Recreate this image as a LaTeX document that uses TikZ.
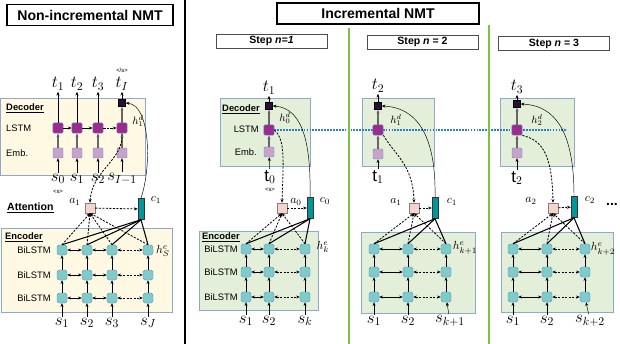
\documentclass[tikz,border=0pt]{standalone}
\usepackage{fontspec}
\setmainfont{Liberation Sans}
\usetikzlibrary{arrows.meta, positioning, calc}
\pgfdeclarelayer{panel}
\pgfdeclarelayer{wire}
\pgfsetlayers{panel,wire,main}

\definecolor{lstmc}{HTML}{9C2A8F}
\definecolor{embc}{HTML}{C9A2CC}
\definecolor{outc}{HTML}{2E0B3A}
\definecolor{encc}{HTML}{7FCBCB}
\definecolor{cellb}{HTML}{5B8FC9}
\definecolor{attc}{HTML}{F8D3CC}
\definecolor{ctxc}{HTML}{00969B}
\definecolor{yelbox}{HTML}{FFF9E3}
\definecolor{grnbox}{HTML}{E3EFD9}
\definecolor{boxb}{HTML}{8EAACB}
\definecolor{stepg}{HTML}{7DC242}
\definecolor{recb}{HTML}{2A80C0}

\begin{document}
\begin{tikzpicture}[x=0.03cm, y=-0.03cm,
    lstm/.style={draw=cellb, fill=lstmc, rounded corners=1pt, minimum size=3.1mm, inner sep=0pt},
    emb/.style={draw=cellb, fill=embc, rounded corners=1pt, minimum size=3mm, inner sep=0pt},
    outcell/.style={draw=black, fill=outc, minimum size=2.1mm, inner sep=0pt},
    enc/.style={draw=cellb, fill=encc, rounded corners=1.5pt, minimum size=3mm, inner sep=0pt},
    att/.style={draw=gray, fill=attc, minimum size=3mm, inner sep=0pt},
    ctx/.style={draw=black!80, fill=ctxc, minimum width=1.8mm, minimum height=6.3mm, inner sep=0pt},
    yelpanel/.style={draw=boxb, fill=yelbox, line width=0.6pt},
    grnpanel/.style={draw=boxb, fill=grnbox, line width=0.6pt},
    title/.style={draw, line width=0.9pt, font=\bfseries\fontsize{12}{14}\selectfont,
                  minimum height=6.3mm, inner sep=0pt},
    stepbox/.style={draw=black!70, line width=0.5pt, font=\bfseries\fontsize{9}{10}\selectfont,
                    minimum width=3.33cm, minimum height=4.2mm, inner sep=0pt},
    sym/.style={font=\Large, inner sep=1pt},
    lbl/.style={font=\normalsize, inner sep=1pt},
    hlbl/.style={font=\small, inner sep=0pt},
    tag/.style={font=\fontsize{5}{6}\selectfont, inner sep=0pt},
    txt/.style={font=\fontsize{8}{9}\selectfont, inner sep=0pt},
    head/.style={font=\bfseries\fontsize{8}{9}\selectfont, inner sep=0pt},
    inner/.style={draw=gray!80!black, line width=1pt},
    dsh/.style={dash pattern=on 1.8pt off 1.2pt, line width=0.7pt},
    ctxline/.style={line width=0.9pt},
    recur/.style={recb, dash pattern=on 1.5pt off 1pt, line width=0.9pt},
    >={Stealth[length=1.1mm,width=0.9mm]},
]
\useasboundingbox (0,0) rectangle (620,344);

% panels and separators
\begin{pgfonlayer}{panel}
  \draw[yelpanel] (0,98) rectangle (145,175);
  \draw[yelpanel] (1,228) rectangle (172,312);
  \draw[grnpanel] (220,98) rectangle (310,166);
  \draw[grnpanel] (199,231) rectangle (318,310);
  \draw[grnpanel] (362,98) rectangle (434,166);
  \draw[grnpanel] (361,232) rectangle (475,313);
  \draw[grnpanel] (500,98) rectangle (574,166);
  \draw[grnpanel] (501,232) rectangle (613,312);
\end{pgfonlayer}
\draw[line width=2.5pt] (185,0) -- (185,344);
\draw[stepg, line width=2.5pt] (349,28) -- (349,344);
\draw[stepg, line width=2.5pt] (489,25) -- (489,344);

\node[title, minimum width=4.98cm] (titleL) at (90,15) {Non-incremental NMT};
\node[title, minimum width=6.06cm] (titleR) at (378,13.5) {Incremental NMT};
\node[stepbox] (step1) at (271.5,41) {Step \textit{n=1}};
\node[stepbox] (step2) at (422.5,42) {Step \textit{n} = 2};
\node[stepbox] (step3) at (554,43.5) {Step \textit{n} = 3};

%% ---------------- non-incremental ----------------
\node[head, anchor=west] (decL) at (6,108) {\underline{Decoder}};
\node[txt, anchor=west] (lstmL) at (6,128) {LSTM};
\node[txt, anchor=west] (embL) at (6,153) {Emb.};
\node[lstm] (dL1) at (58,128) {};
\node[lstm] (dL2) at (77,128) {};
\node[lstm] (dL3) at (98,128) {};
\node[lstm] (dL4) at (122,128) {};
\node[emb] (mL1) at (58,153) {};
\node[emb] (mL2) at (77,153) {};
\node[emb] (mL3) at (98,153) {};
\node[emb] (mL4) at (122,153) {};
\node[outcell] (oL) at (122,103) {};
\node[sym] (tL1) at (58,84) {$t_1$};
\node[sym] (tL2) at (77,84) {$t_2$};
\node[sym] (tL3) at (98,84) {$t_3$};
\node[sym] (tL4) at (122,84) {$t_I$};
\node[tag] (eosL) at (122,70) {</s>};
\node[sym] (uL1) at (58,179) {$s_0$};
\node[sym] (uL2) at (77,179) {$s_1$};
\node[sym] (uL3) at (98,179) {$s_2$};
\node[sym] (uL4) at (122,179) {$s_{I-1}$};
\node[tag] (bosL) at (58,192) {<s>};
\node[hlbl] (hdL) at (138,121) {$h^d_1$};
\draw[->] (dL1) -- (tL1);
\draw[->] (dL2) -- (tL2);
\draw[->] (dL3) -- (tL3);
\draw[->,inner] (dL4) -- (oL);
\draw[->] (oL) -- (tL4);
\draw[->] (dL1) -- (dL2);
\draw[->] (dL2) -- (dL3);
\draw[->,dsh] (dL3) -- (dL4);
\foreach \i in {1,...,4}{
  \draw[->,inner] (mL\i) -- (dL\i);
  \draw[->] (uL\i) -- (mL\i);
}

\node[font=\bfseries\fontsize{9}{10}\selectfont, anchor=west, inner sep=0pt] (attL) at (7,208) {\underline{Attention}};
\node[att] (aL) at (90,208) {};
\node[ctx] (cL) at (141,209) {};
\node[lbl] (aLlab) at (75,202) {$a_1$};
\node[lbl] (cLlab) at (156,200) {$c_1$};
\draw[->,dsh] (aL) -- (cL);
\draw[->,dsh] (dL4.south) .. controls (124,160) and (92,170) .. (aL.north);
\draw[->] (cL.north) .. controls (152,165) and (150,105) .. (oL.east);

\node[head, anchor=west] (encL) at (5,237) {\underline{Encoder}};
\node[txt] (biL1) at (34,250) {BiLSTM};
\node[txt] (biL2) at (34,275) {BiLSTM};
\node[txt] (biL3) at (34,298) {BiLSTM};
\foreach \c/\x in {1/62,2/87,3/112,4/148}{
  \foreach \r/\y in {1/250,2/275,3/298}
    \node[enc] (eL-\r-\c) at (\x,\y) {};
}
\node[sym] (xL-1) at (62,323) {$s_1$};
\node[sym] (xL-2) at (87,323) {$s_2$};
\node[sym] (xL-3) at (112,323) {$s_3$};
\node[sym] (xL-4) at (148,323) {$s_J$};
\node[lbl] (heL) at (163,251) {$h^e_S$};
\foreach \r in {1,2,3}{
  \draw[<->] (eL-\r-1) -- (eL-\r-2);
  \draw[<->] (eL-\r-2) -- (eL-\r-3);
  \draw[<->,dsh] (eL-\r-3) -- (eL-\r-4);
}
\foreach \c in {1,...,4}{
  \draw[->] (eL-3-\c) -- (eL-2-\c);
  \draw[->] (eL-2-\c) -- (eL-1-\c);
  \draw[->] (xL-\c) -- (eL-3-\c);
  \draw[->,dsh] (eL-1-\c.north) -- (aL.south);
  \draw[ctxline] (cL.south) -- (eL-1-\c.north);
}

%% ---------------- step n=1 ----------------
\node[head, anchor=west] (dec1) at (222,109) {\underline{Decoder}};
\node[txt, anchor=east] (lstm1) at (259,129) {LSTM};
\node[txt, anchor=east] (emb1) at (257,152) {Emb.};
\node[outcell] (o1) at (269,106) {};
\node[lstm] (d1) at (269,130) {};
\node[emb] (m1) at (269,152) {};
\node[sym] (t1) at (269,88) {$t_1$};
\node[sym] (u1) at (270,177) {$\mathrm{t}_0$};
\node[tag] (bos1) at (270,190) {<s>};
\node[hlbl] (hd1) at (285,118) {$h^d_0$};
\draw[->] (o1) -- (t1);
\draw[->,inner] (d1) -- (o1);
\draw[->,inner] (m1) -- (d1);
\draw[->] (u1) -- (m1);
\node[att] (a1) at (282,208) {};
\node[ctx] (c1) at (310,208) {};
\node[lbl] (a1lab) at (296,202) {$a_0$};
\node[lbl] (c1lab) at (325,201) {$c_0$};
\draw[->,dsh] (a1) -- (c1);
\draw[->,dsh] (d1.east) .. controls (286,140) and (283,165) .. (a1.north);
\draw[->] (c1.north) .. controls (311,150) and (305,108) .. (o1.east);

\node[head, anchor=west] (enc1) at (202,237) {\underline{Encoder}};
\node[txt] (bi1a) at (221,249) {BiLSTM};
\node[txt] (bi1b) at (221,272) {BiLSTM};
\node[txt] (bi1c) at (221,297) {BiLSTM};
\foreach \c/\x in {1/246,2/269,3/305}{
  \foreach \r/\y in {1/249,2/272,3/297}
    \node[enc] (e1-\r-\c) at (\x,\y) {};
}
\node[sym] (x1-1) at (246,321) {$s_1$};
\node[sym] (x1-2) at (269,321) {$s_2$};
\node[sym] (x1-3) at (305,321) {$s_k$};
\node[lbl] (he1) at (323,247) {$h^e_k$};
\foreach \r in {1,2,3}{
  \draw[<->] (e1-\r-1) -- (e1-\r-2);
  \draw[<->,dsh] (e1-\r-2) -- (e1-\r-3);
}
\foreach \c in {1,2,3}{
  \draw[->] (e1-3-\c) -- (e1-2-\c);
  \draw[->] (e1-2-\c) -- (e1-1-\c);
  \draw[->] (x1-\c) -- (e1-3-\c);
  \draw[->,dsh] (e1-1-\c.north) -- (a1.south);
  \draw[ctxline] (c1.south) -- (e1-1-\c.north);
}

%% ---------------- step n=2 ----------------
\node[outcell] (o2) at (378,106) {};
\node[lstm] (d2) at (378,130) {};
\node[emb] (m2) at (378,154) {};
\node[sym] (t2) at (378,86) {$t_2$};
\node[sym] (u2) at (378,177) {$\mathrm{t}_1$};
\node[hlbl] (hd2) at (396,120) {$h^d_1$};
\draw[->] (o2) -- (t2);
\draw[->,inner] (d2) -- (o2);
\draw[->,inner] (m2) -- (d2);
\draw[->] (u2) -- (m2);
\node[att] (a2) at (414,208) {};
\node[ctx] (c2) at (435,208) {};
\node[lbl] (a2lab) at (396,202) {$a_1$};
\node[lbl] (c2lab) at (452,202) {$c_1$};
\draw[->,dsh] (a2) -- (c2);
\draw[->,dsh] (d2.south east) .. controls (395,155) and (413,165) .. (a2.north);
\draw[->] (c2.north) .. controls (436,150) and (425,108) .. (o2.east);

\foreach \c/\x in {1/374,2/408,3/446}{
  \foreach \r/\y in {1/249,2/272,3/297}
    \node[enc] (e2-\r-\c) at (\x,\y) {};
}
\node[sym] (x2-1) at (374,321) {$s_1$};
\node[sym] (x2-2) at (408,321) {$s_2$};
\node[sym] (x2-3) at (450,321) {$s_{k+1}$};
\node[lbl] (he2) at (465,248) {$h^e_{k+1}$};
\foreach \r in {1,2,3}{
  \draw[<->] (e2-\r-1) -- (e2-\r-2);
  \draw[<->,dsh] (e2-\r-2) -- (e2-\r-3);
}
\foreach \c in {1,2,3}{
  \draw[->] (e2-3-\c) -- (e2-2-\c);
  \draw[->] (e2-2-\c) -- (e2-1-\c);
  \draw[->] (x2-\c) -- (e2-3-\c);
  \draw[->,dsh] (e2-1-\c.north) -- (a2.south);
  \draw[ctxline] (c2.south) -- (e2-1-\c.north);
}

%% ---------------- step n=3 ----------------
\node[outcell] (o3) at (517,104) {};
\node[lstm] (d3) at (517,130) {};
\node[emb] (m3) at (517,153) {};
\node[sym] (t3) at (517,87) {$t_3$};
\node[sym] (u3) at (517,178) {$\mathrm{t}_2$};
\node[hlbl] (hd3) at (537,120) {$h^d_2$};
\draw[->] (o3) -- (t3);
\draw[->,inner] (d3) -- (o3);
\draw[->,inner] (m3) -- (d3);
\draw[->] (u3) -- (m3);
\node[att] (a3) at (553,208) {};
\node[ctx] (c3) at (574,207) {};
\node[lbl] (a3lab) at (531,201) {$a_2$};
\node[lbl] (c3lab) at (590,200) {$c_2$};
\node[font=\bfseries\large, inner sep=0pt] (more) at (612,204) {...};
\draw[->,dsh] (a3) -- (c3);
\draw[->,dsh] (d3.south east) .. controls (540,140) and (552,150) .. (a3.north);
\draw[->] (c3.north) .. controls (574,150) and (565,106) .. (o3.east);

\foreach \c/\x in {1/513,2/547,3/585}{
  \foreach \r/\y in {1/249,2/272,3/297}
    \node[enc] (e3-\r-\c) at (\x,\y) {};
}
\node[sym] (x3-1) at (513,321) {$s_1$};
\node[sym] (x3-2) at (547,321) {$s_2$};
\node[sym] (x3-3) at (590,321) {$s_{k+2}$};
\node[lbl] (he3) at (603,249) {$h^e_{k+2}$};
\foreach \r in {1,2,3}{
  \draw[<->] (e3-\r-1) -- (e3-\r-2);
  \draw[<->,dsh] (e3-\r-2) -- (e3-\r-3);
}
\foreach \c in {1,2,3}{
  \draw[->] (e3-3-\c) -- (e3-2-\c);
  \draw[->] (e3-2-\c) -- (e3-1-\c);
  \draw[->] (x3-\c) -- (e3-3-\c);
  \draw[->,dsh] (e3-1-\c.north) -- (a3.south);
  \draw[ctxline] (c3.south) -- (e3-1-\c.north);
}

% decoder state carried across steps
\coordinate (recend) at (567,130);
\begin{pgfonlayer}{wire}
  \draw[->,recur] (d1.east) -- (recend);
\end{pgfonlayer}
\end{tikzpicture}
\end{document}
